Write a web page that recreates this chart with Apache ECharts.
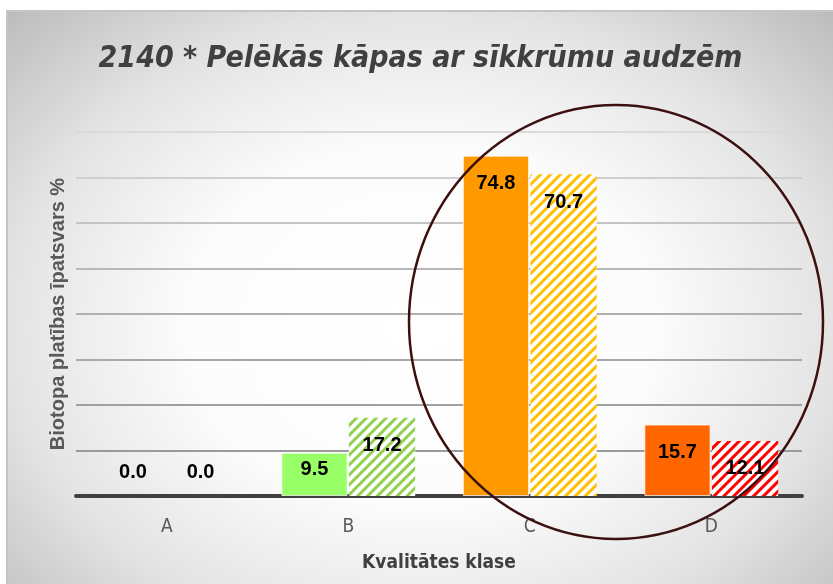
<!DOCTYPE html>
<html>
<head>
<meta charset="utf-8">
<script src="https://cdn.jsdelivr.net/npm/echarts@6/dist/echarts.min.js"></script>
<style>
  html, body { margin: 0; padding: 0; background: #fff; }
  #chart {
    position: absolute;
    left: 6px;
    top: 10px;
    width: 827px;
    height: 574px;
    box-sizing: border-box;
    border-top: 2px solid #c4c4c4;
    border-left: 2px solid #c4c4c4;
    background: radial-gradient(ellipse farthest-corner at 50% 55%, #ffffff 0%, #fcfcfc 40%, #e4e4e4 70%, #bcbcbc 100%);
  }
</style>
</head>
<body>
<div id="chart"></div>
<script>
const categories = ["A", "B", "C", "D"];
const solidValues = [0.0, 9.5, 74.8, 15.7];
const hatchedValues = [0.0, 17.2, 70.7, 12.1];
const solidColors = ["#99ff66", "#99ff66", "#ff9900", "#ff6600"];
const hatchColors = ["#92d050", "#92d050", "#ffc000", "#ff0000"];

const narrow = "'Liberation Sans Narrow', 'DejaVu Sans Condensed', sans-serif";
const labelFont = "'Liberation Sans', Arial, sans-serif";

function labelFor(v) {
  if (v === 0) return { position: "top", distance: 14 };
  if (v < 12) return { position: "insideTop", distance: 7 };
  return { position: "insideTop", distance: 18 };
}

const chart = echarts.init(document.getElementById("chart"));
chart.setOption({
  title: {
    text: "2140 * Pelēkās kāpas ar sīkkrūmu audzēm",
    left: "center",
    top: 27,
    textStyle: {
      fontFamily: narrow,
      fontStyle: "italic",
      fontWeight: "bold",
      fontSize: 30,
      color: "#404040",
    },
  },
  grid: { left: 68, right: 31, top: 120, bottom: 88 },
  xAxis: {
    type: "category",
    data: categories,
    axisLine: { lineStyle: { color: "#404040", width: 4 } },
    axisTick: { show: false },
    axisLabel: { fontFamily: narrow, fontSize: 19, color: "#595959", margin: 22 },
    name: "Kvalitātes klase",
    nameLocation: "middle",
    nameGap: 58,
    nameTextStyle: { fontFamily: narrow, fontSize: 19, fontWeight: "bold", color: "#404040" },
  },
  yAxis: {
    type: "value",
    min: 0,
    max: 80,
    interval: 10,
    axisLabel: { show: false },
    axisLine: { show: false },
    axisTick: { show: false },
    splitLine: {
      lineStyle: {
        width: 2,
        color: ["#9a9a9a", "#9a9a9a", "#a0a0a0", "#a8a8a8", "#b0b0b0", "#b8b8b8", "#c4c4c4", "#cfcfcf", "#dadada"],
      },
    },
    name: "Biotopa platības īpatsvars %",
    nameLocation: "middle",
    nameRotate: 90,
    nameGap: 8,
    nameTextStyle: { fontFamily: labelFont, fontSize: 20, fontWeight: "bold", color: "#595959" },
  },
  series: [
    {
      type: "bar",
      barWidth: "36.5%",
      barGap: "2%",
      data: solidValues.map((v, i) => ({
        value: v,
        itemStyle: { color: solidColors[i], borderWidth: v === 0 ? 0 : 1 },
        label: labelFor(v),
      })),
      itemStyle: { borderColor: "rgba(255,255,255,0.7)" },
      label: {
        show: true,
        formatter: (p) => p.value.toFixed(1),
        fontFamily: labelFont,
        fontWeight: "bold",
        fontSize: 20,
        color: "#000",
      },
    },
    {
      type: "bar",
      barWidth: "36.5%",
      data: hatchedValues.map((v, i) => ({
        value: v,
        itemStyle: {
          color: "#ffffff",
          decal: {
            symbol: "rect",
            symbolSize: 1,
            color: hatchColors[i],
            dashArrayX: [1, 0],
            dashArrayY: [3, 4],
            rotation: -Math.PI / 4,
          },
        },
        label: labelFor(v),
      })),
      label: {
        show: true,
        formatter: (p) => p.value.toFixed(1),
        fontFamily: labelFont,
        fontWeight: "bold",
        fontSize: 20,
        color: "#000",
      },
    },
  ],
  graphic: [
    {
      type: "ellipse",
      shape: { cx: 608, cy: 310, rx: 207, ry: 217 },
      style: { fill: "none", stroke: "#3d1010", lineWidth: 2.5 },
      z: 100,
    },
  ],
});
</script>
</body>
</html>
